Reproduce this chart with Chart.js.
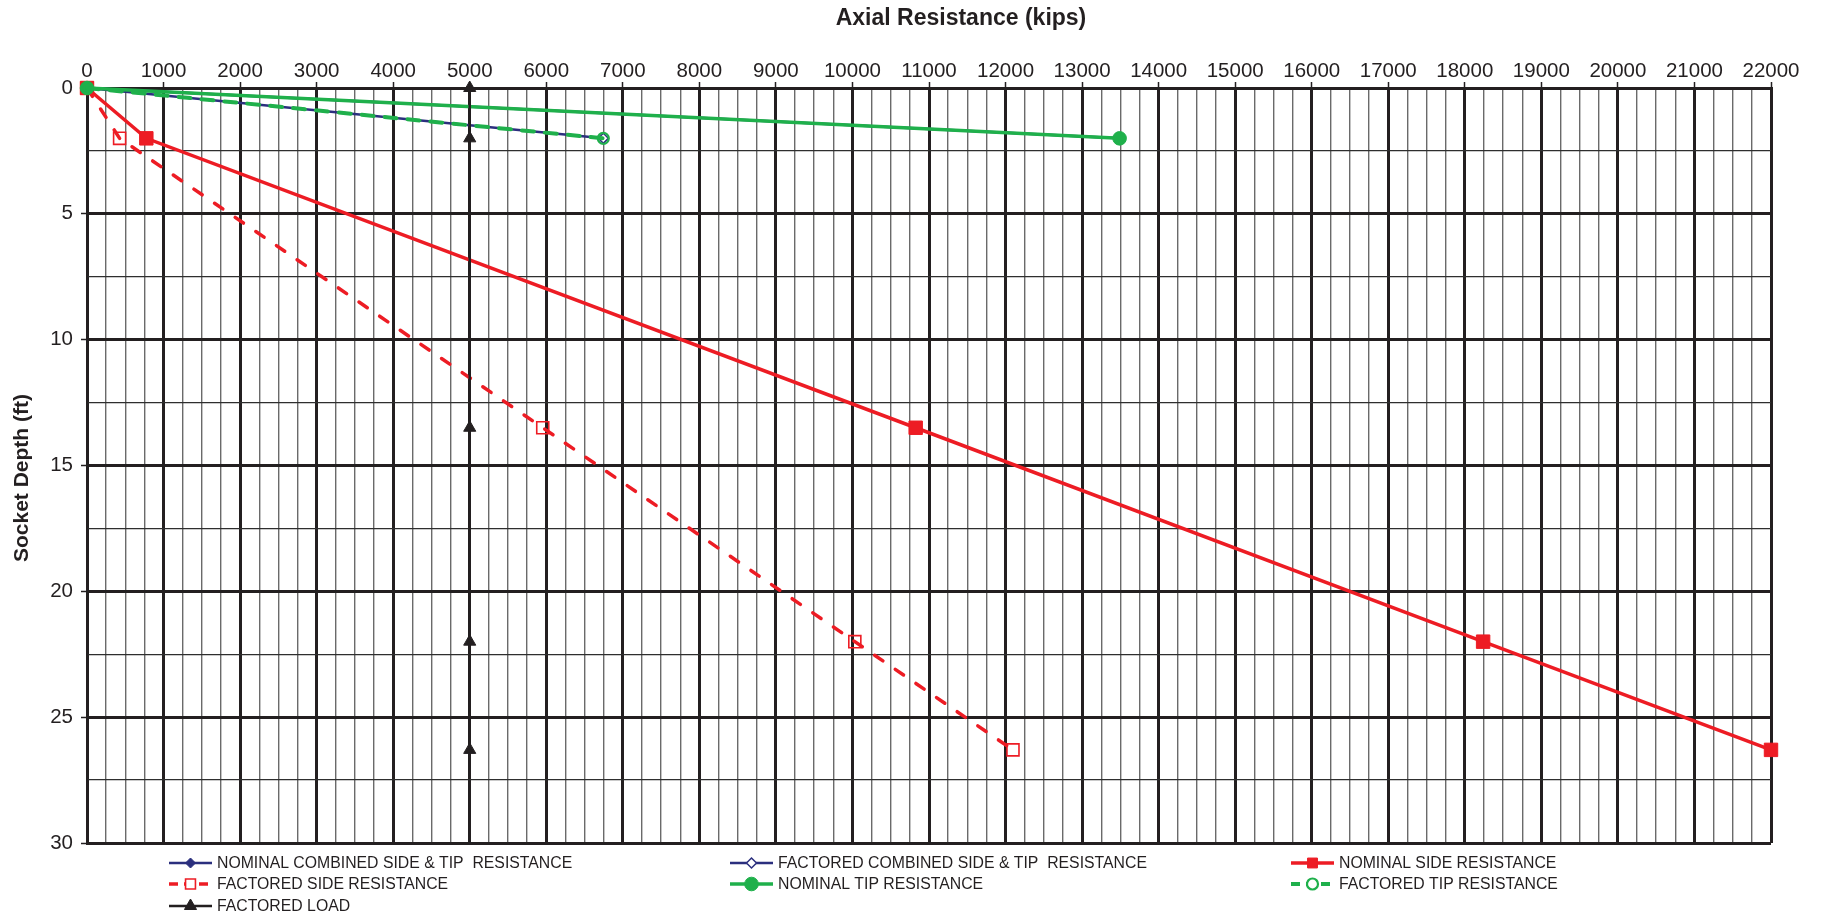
<!DOCTYPE html>
<html>
<head>
<meta charset="utf-8">
<title>Socket Depth vs Axial Resistance</title>
<script src="https://cdn.jsdelivr.net/npm/chart.js"></script>
<style>
  body { margin: 0; background: #fff; font-family: "Liberation Sans", Arial, sans-serif; }
  #wrap { position: relative; width: 1824px; height: 914px; }
  #chart { position: absolute; left: 0; top: 0; }
  .axis-title { position: absolute; font-weight: bold; color: #231f20; white-space: nowrap; }
  #xTitle { left: 761px; top: 4px; width: 400px; text-align: center; font-size: 23px; }
  #yTitle { left: -79px; top: 466px; width: 200px; text-align: center; font-size: 21px; transform: rotate(-90deg); }
</style>
</head>
<body>
<div id="wrap">
  <canvas id="chart" width="1824" height="914"></canvas>
  <div class="axis-title" id="xTitle">Axial Resistance (kips)</div>
  <div class="axis-title" id="yTitle">Socket Depth (ft)</div>
</div>
<script>
// series data (kips vs socket depth in ft)
const seriesNames = [
  "NOMINAL COMBINED SIDE & TIP  RESISTANCE",
  "FACTORED COMBINED SIDE & TIP  RESISTANCE",
  "NOMINAL SIDE RESISTANCE",
  "FACTORED SIDE RESISTANCE",
  "NOMINAL TIP RESISTANCE",
  "FACTORED TIP RESISTANCE",
  "FACTORED LOAD",
];
const sideDepth = [0, 2, 13.5, 22, 26.3];
const nominalSide = [0, 775, 10826, 18239, 22000];
const factoredSide = [0, 426, 5954, 10031, 12097];
const tipDepth = [0, 2];
const nominalTip = [0, 13490];
const factoredTip = [0, 6745];
const nominalCombined = [0, 13490];
const factoredCombined = [0, 6745];
const loadDepth = [0, 2, 13.5, 22, 26.3];
const factoredLoad = [5000, 5000, 5000, 5000, 5000];

const xMax = 22000;
const yMax = 30;

const NAVY = "#2b2f7e";
const RED = "#ed1c24";
const GREEN = "#1fb04b";
const INK = "#231f20";

const toPoints = (xs, ys) => xs.map((x, i) => ({ x: x, y: ys[i] }));

const datasets = [
  {
    data: toPoints(nominalCombined, tipDepth),
    borderColor: NAVY, borderWidth: 2.5,
    pointStyle: "rectRot", pointRadius: 5, pointBackgroundColor: NAVY, pointBorderColor: NAVY,
  },
  {
    data: toPoints(factoredCombined, tipDepth),
    borderColor: NAVY, borderWidth: 2.5,
    pointStyle: "rectRot", pointRadius: 5, pointBorderWidth: 1.5,
    pointBackgroundColor: "#fff", pointBorderColor: NAVY,
  },
  {
    data: toPoints(nominalSide, sideDepth),
    borderColor: RED, borderWidth: 3.5,
    pointStyle: "rect", pointRadius: 9.5, pointBackgroundColor: RED, pointBorderColor: RED,
  },
  {
    data: toPoints(factoredSide, sideDepth),
    borderColor: RED, borderWidth: 3.5, borderDash: [10, 15], borderCapStyle: "round",
    pointStyle: "rect", pointRadius: 8.5, pointBorderWidth: 1.6,
    pointBackgroundColor: "rgba(255,255,255,0)", pointBorderColor: RED,
  },
  {
    data: toPoints(nominalTip, tipDepth),
    borderColor: GREEN, borderWidth: 3.5,
    pointStyle: "circle", pointRadius: 6.8, pointBackgroundColor: GREEN, pointBorderColor: GREEN,
  },
  {
    data: toPoints(factoredTip, tipDepth),
    borderColor: GREEN, borderWidth: 4, borderDash: [12, 11], borderCapStyle: "round",
    pointStyle: "circle", pointRadius: 5.5, pointBorderWidth: 2.2,
    pointBackgroundColor: "rgba(255,255,255,0)", pointBorderColor: GREEN,
  },
  {
    data: toPoints(factoredLoad, loadDepth),
    borderColor: INK, borderWidth: 2.5,
    pointStyle: "triangle", pointRadius: 7, pointBackgroundColor: INK, pointBorderColor: INK,
  },
];

// later series drawn on top, like the original spreadsheet chart
datasets.forEach((ds, i) => {
  ds.label = seriesNames[i];
  ds.order = datasets.length - i;
  ds.fill = false;
  ds.tension = 0;
  ds.clip = false;
  ds.pointBorderWidth = ds.pointBorderWidth || 1;
});

// legend drawn in a 3 column grid under the plot
const gridLegend = {
  id: "gridLegend",
  afterDraw(chart) {
    const ctx = chart.ctx;
    const cols = [169, 730, 1291];
    const rows = [863, 884, 906];
    ctx.save();
    chart.data.datasets.forEach((ds, i) => {
      const x = cols[i % 3];
      const y = rows[Math.floor(i / 3)];
      ctx.strokeStyle = ds.borderColor;
      ctx.lineWidth = ds.borderWidth;
      ctx.lineCap = "butt";
      ctx.setLineDash(ds.borderDash ? [9, 6] : []);
      ctx.beginPath();
      ctx.moveTo(x, y);
      ctx.lineTo(x + 43, y);
      ctx.stroke();
      ctx.setLineDash([]);
      ctx.fillStyle = ds.pointBackgroundColor === "rgba(255,255,255,0)" ? "#fff" : ds.pointBackgroundColor;
      ctx.strokeStyle = ds.pointBorderColor;
      ctx.lineWidth = ds.pointBorderWidth;
      Chart.helpers.drawPoint(ctx, {
        pointStyle: ds.pointStyle,
        radius: Math.min(ds.pointRadius, 7),
        rotation: 0,
        borderWidth: ds.pointBorderWidth,
      }, x + 21.5, y);
      ctx.fillStyle = INK;
      ctx.font = "15.8px 'Liberation Sans', Arial, sans-serif";
      ctx.textBaseline = "middle";
      ctx.textAlign = "left";
      ctx.fillText(ds.label, x + 48, y + 1);
    });
    ctx.restore();
  },
};

const isMajorX = (ctx) => ctx.tick && ctx.tick.value % 1000 === 0;
const isMajorY = (ctx) => ctx.tick && ctx.tick.value % 5 === 0;

new Chart(document.getElementById("chart"), {
  type: "line",
  data: { datasets: datasets },
  plugins: [gridLegend],
  options: {
    responsive: false,
    animation: false,
    devicePixelRatio: 1,
    layout: { padding: { top: 0, left: 0, right: 53, bottom: 71 } },
    plugins: { legend: { display: false }, tooltip: { enabled: false } },
    scales: {
      x: {
        type: "linear",
        position: "top",
        min: 0,
        max: xMax,
        afterFit: (scale) => { scale.height = 88; },
        ticks: {
          stepSize: 250,
          autoSkip: false,
          maxRotation: 0,
          padding: -2,
          color: INK,
          font: { family: "'Liberation Sans', Arial", size: 20.5 },
          callback: (v) => (v % 1000 === 0 ? String(v) : ""),
        },
        grid: {
          color: (ctx) => (isMajorX(ctx) ? INK : "#6a6a6a"),
          lineWidth: (ctx) => (isMajorX(ctx) ? 3 : 1.4),
          tickColor: (ctx) => (isMajorX(ctx) ? INK : "rgba(0,0,0,0)"),
          tickLength: 6,
          tickWidth: 1.5,
        },
        border: { display: true, color: INK, width: 2 },
      },
      y: {
        type: "linear",
        reverse: true,
        min: 0,
        max: yMax,
        afterFit: (scale) => { scale.width = 87; },
        ticks: {
          stepSize: 2.5,
          autoSkip: false,
          padding: 8,
          color: INK,
          font: { family: "'Liberation Sans', Arial", size: 20.5 },
          callback: (v) => (v % 5 === 0 ? String(v) : ""),
        },
        grid: {
          color: (ctx) => (isMajorY(ctx) ? INK : "#2e2e2e"),
          lineWidth: (ctx) => (isMajorY(ctx) ? 3 : 1.3),
          tickColor: (ctx) => (isMajorY(ctx) ? INK : "rgba(0,0,0,0)"),
          tickLength: 6,
          tickWidth: 1.5,
        },
        border: { display: true, color: INK, width: 2 },
      },
    },
  },
});
</script>
</body>
</html>
